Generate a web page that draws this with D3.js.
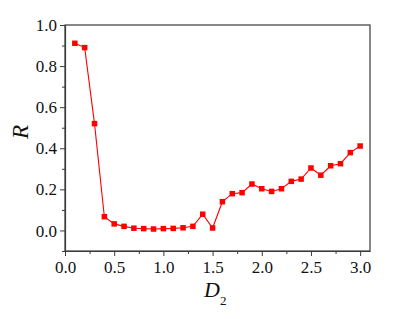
<!DOCTYPE html>
<html>
<head>
<meta charset="utf-8">
<script src="https://cdn.jsdelivr.net/npm/d3@7"></script>
<style>
  html, body { margin: 0; padding: 0; background: #fff; }
</style>
</head>
<body>
<div id="chart"></div>
<script>
const width = 404;
const height = 319;
const serif = "Liberation Serif, Times New Roman, serif";

// data
const d2Values = [0.1, 0.2, 0.3, 0.4, 0.5, 0.6, 0.7, 0.8, 0.9, 1.0,
  1.1, 1.2, 1.3, 1.4, 1.5, 1.6, 1.7, 1.8, 1.9, 2.0,
  2.1, 2.2, 2.3, 2.4, 2.5, 2.6, 2.7, 2.8, 2.9, 3.0];
const rValues = [0.911, 0.89, 0.52, 0.067, 0.032, 0.02, 0.011, 0.009, 0.007, 0.009,
  0.01, 0.013, 0.02, 0.079, 0.012, 0.14, 0.179, 0.184, 0.226, 0.203,
  0.19, 0.203, 0.239, 0.25, 0.304, 0.269, 0.315, 0.325, 0.379, 0.411];
const xTicks = [0.0, 0.5, 1.0, 1.5, 2.0, 2.5, 3.0];
const yTicks = [0.0, 0.2, 0.4, 0.6, 0.8, 1.0];

const margin = { top: 25, right: 34, bottom: 68, left: 65 };
const innerW = width - margin.left - margin.right;
const innerH = height - margin.top - margin.bottom;

const x = d3.scaleLinear().domain([0, 3.1]).range([0, innerW]);
const y = d3.scaleLinear().domain([-0.1, 1.0]).range([innerH, 0]);

const svg = d3.select("#chart")
  .append("svg")
  .attr("width", width)
  .attr("height", height)
  .attr("font-family", serif);

const g = svg.append("g")
  .attr("transform", `translate(${margin.left},${margin.top})`);

const axisColor = "#3a3a3a";

// frame
g.append("rect")
  .attr("x", 0)
  .attr("y", 0)
  .attr("width", innerW)
  .attr("height", innerH)
  .attr("fill", "none")
  .attr("stroke", axisColor)
  .attr("stroke-width", 1.2);

// minor ticks
const xMinor = d3.range(0.25, 3.1, 0.5);
const yMinor = d3.range(-0.1, 1.0, 0.2);

const xAxis = g.append("g")
  .attr("transform", `translate(0,${innerH})`)
  .call(d3.axisBottom(x).tickValues(xTicks).tickFormat(d3.format(".1f")).tickSize(5).tickSizeOuter(0));
g.append("g")
  .attr("transform", `translate(0,${innerH})`)
  .call(d3.axisBottom(x).tickValues(xMinor).tickFormat("").tickSize(3).tickSizeOuter(0))
  .call(a => a.select(".domain").remove());

const yAxis = g.append("g")
  .call(d3.axisLeft(y).tickValues(yTicks).tickFormat(d3.format(".1f")).tickSize(5).tickSizeOuter(0));
g.append("g")
  .call(d3.axisLeft(y).tickValues(yMinor).tickFormat("").tickSize(3).tickSizeOuter(0))
  .call(a => a.select(".domain").remove());

svg.selectAll(".tick line").attr("stroke", axisColor).attr("stroke-width", 1);
svg.selectAll(".domain").attr("stroke", axisColor).attr("stroke-width", 1.2);

xAxis.attr("font-family", serif).attr("font-size", 17);
yAxis.attr("font-family", serif).attr("font-size", 17);
xAxis.selectAll("text")
  .attr("fill", "#111")
  .attr("dy", "0.8em");
yAxis.selectAll("text")
  .attr("fill", "#111")
  .attr("dx", "0")
  .attr("dy", "0.33em");

// line
const line = d3.line()
  .x((d, i) => x(d2Values[i]))
  .y(d => y(d));

g.append("path")
  .datum(rValues)
  .attr("d", line)
  .attr("fill", "none")
  .attr("stroke", "#ff0000")
  .attr("stroke-width", 1.1);

// markers
const ms = 5.5;
g.selectAll("rect.pt")
  .data(rValues)
  .join("rect")
  .attr("class", "pt")
  .attr("x", (d, i) => x(d2Values[i]) - ms / 2)
  .attr("y", d => y(d) - ms / 2)
  .attr("width", ms)
  .attr("height", ms)
  .attr("fill", "#ff0000");

// axis titles
svg.append("text")
  .attr("transform", `translate(28,${margin.top + innerH / 2 - 6}) rotate(-90)`)
  .attr("text-anchor", "middle")
  .attr("font-family", serif)
  .attr("font-size", 23)
  .attr("font-style", "italic")
  .attr("fill", "#111")
  .text("R");

const xt = svg.append("text")
  .attr("x", 204)
  .attr("y", 297)
  .attr("font-family", serif)
  .attr("font-size", 22)
  .attr("fill", "#111");
xt.append("tspan").attr("font-style", "italic").text("D");
xt.append("tspan").attr("dy", 8).attr("font-size", 13).text("2");
</script>
</body>
</html>
